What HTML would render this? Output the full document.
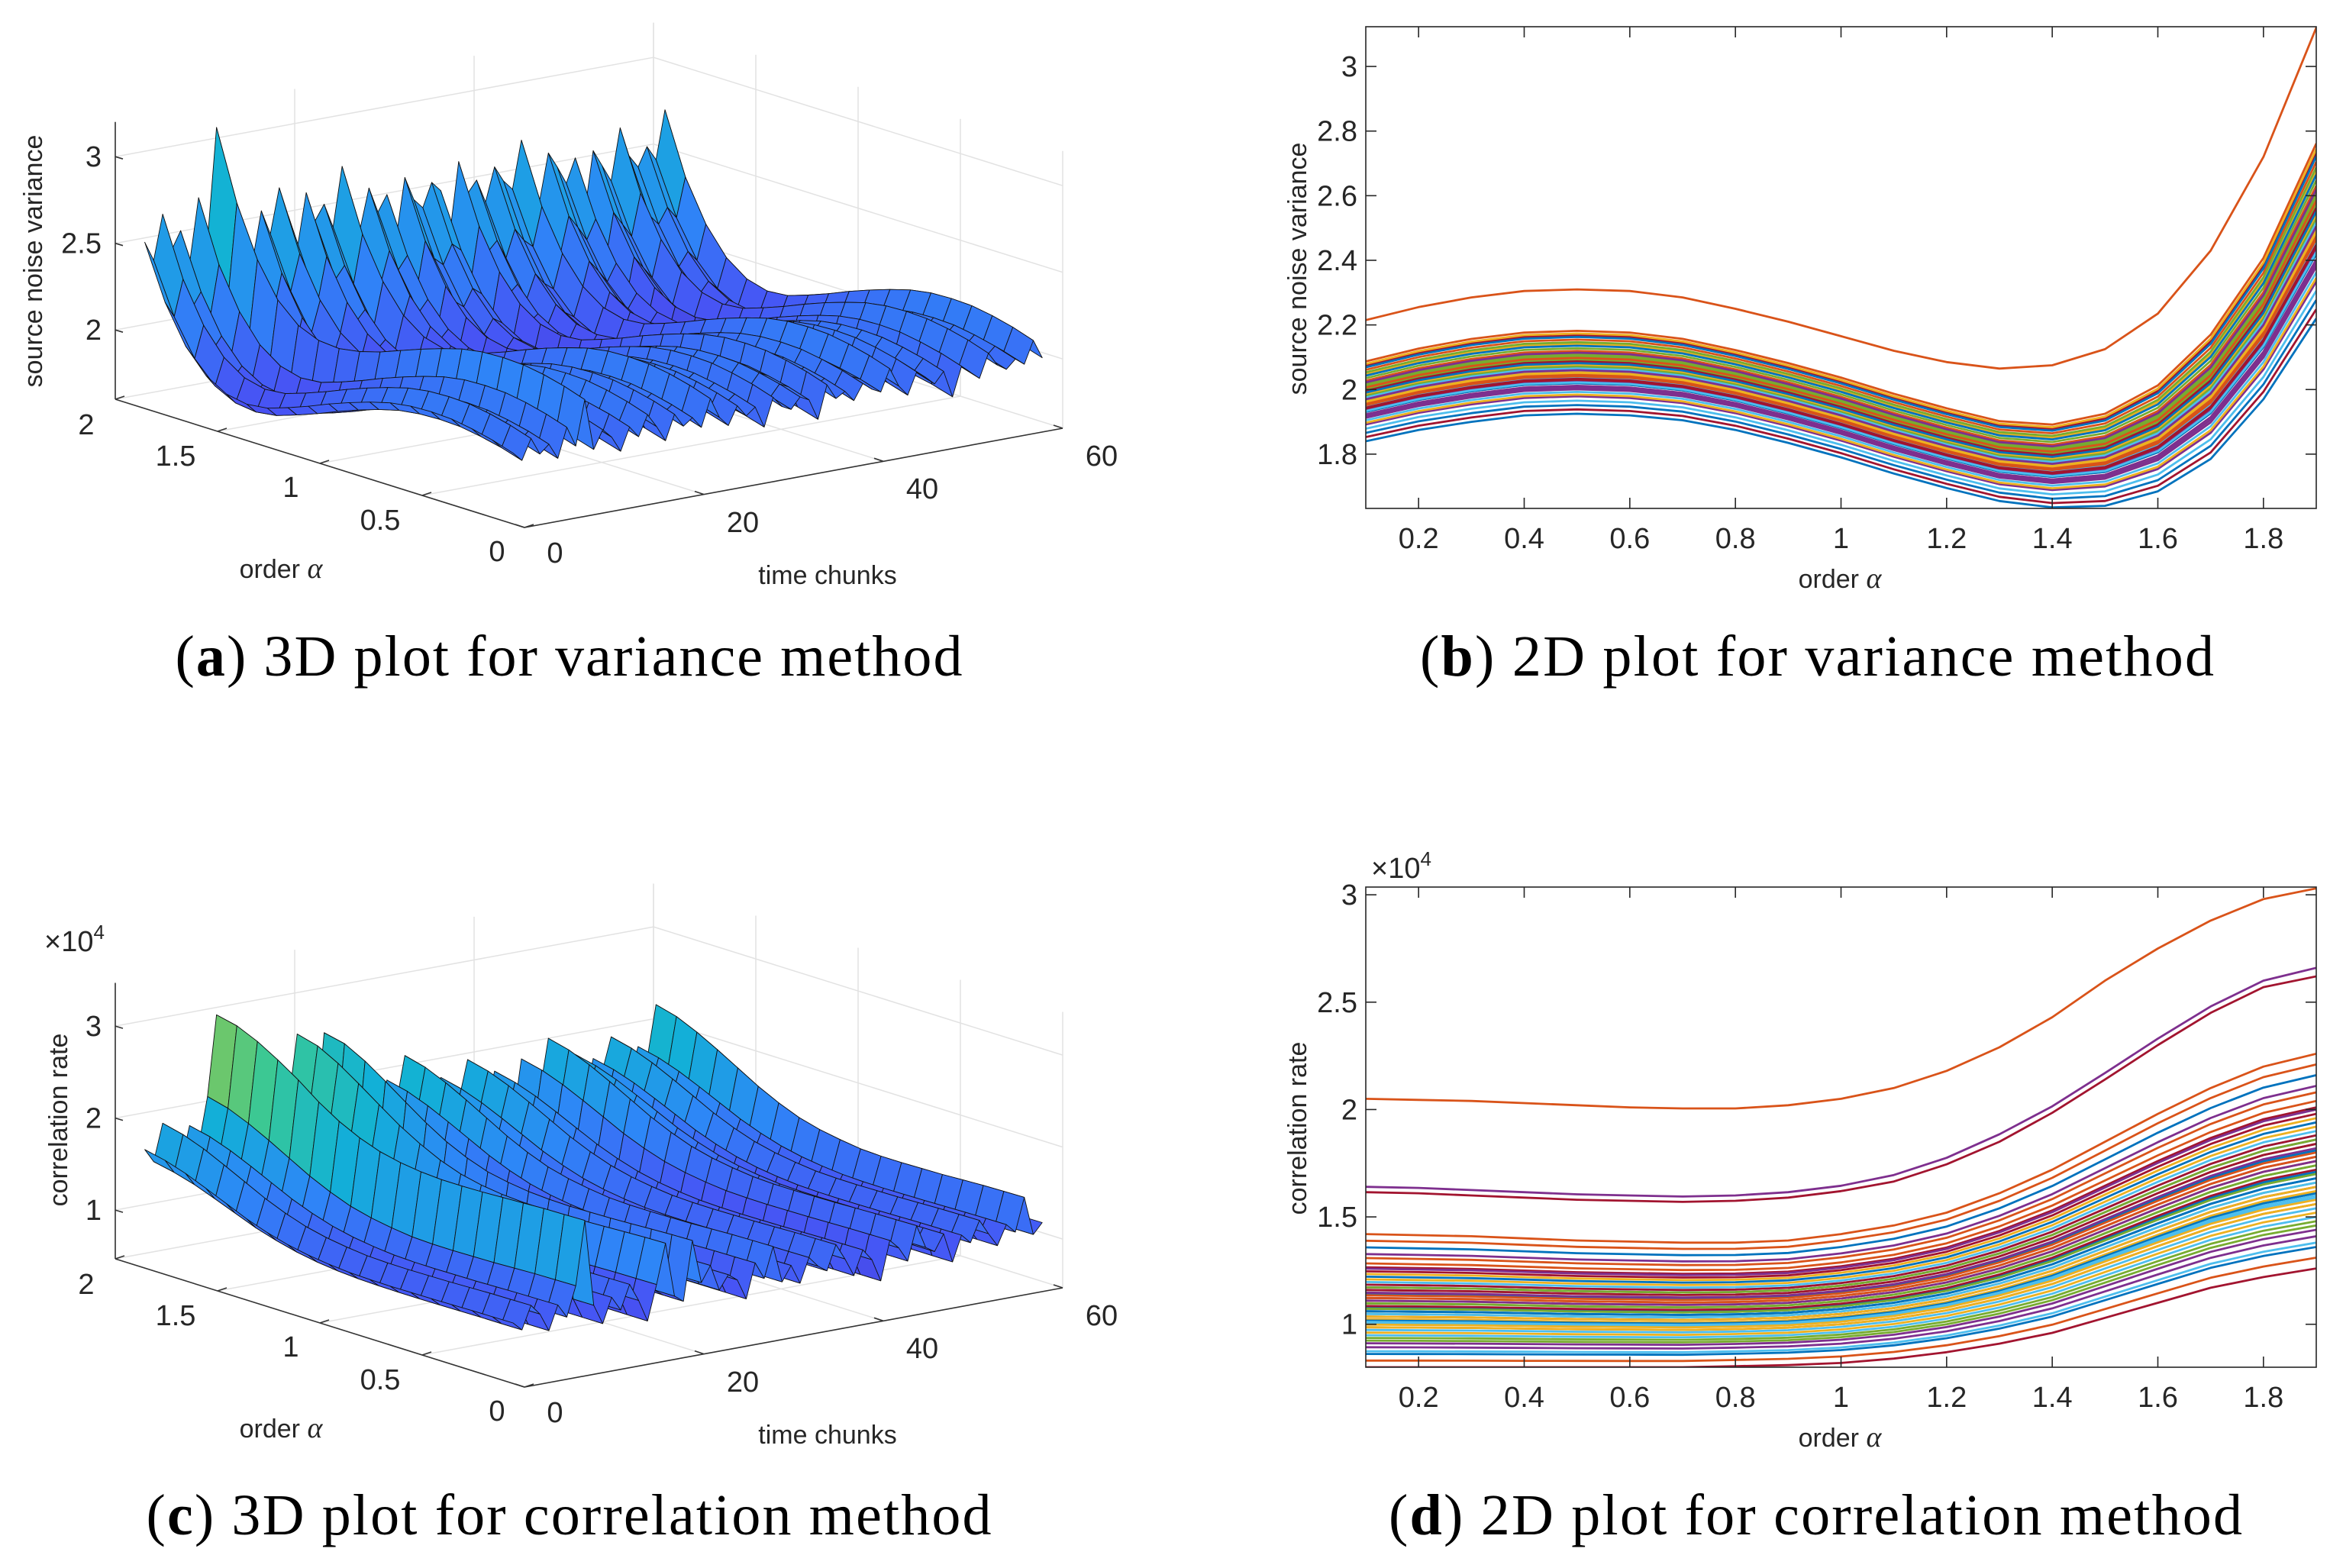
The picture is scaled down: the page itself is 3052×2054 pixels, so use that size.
<!DOCTYPE html>
<html><head><meta charset="utf-8"><style>
html,body{margin:0;padding:0;background:#fff;}
svg{display:block;}
.tk{font-family:"Liberation Sans Narrow","Liberation Sans",sans-serif;font-size:38px;fill:#262626;}
.lab{font-family:"Liberation Sans",sans-serif;font-size:34px;fill:#262626;}
.cap{font-family:"Liberation Serif",serif;font-size:76px;fill:#000;}
</style></head><body>
<svg id="root" xmlns="http://www.w3.org/2000/svg" width="3052" height="2054" viewBox="0 0 3052 2054">
<defs>
<clipPath id="clipB"><rect x="1789" y="35" width="1245" height="631"/></clipPath>
<clipPath id="clipD"><rect x="1789" y="1162" width="1245" height="629"/></clipPath>
</defs>
<g id="panelA"></g>
<g id="panelB"></g>
<g id="panelC"></g>
<g id="panelD"></g>
<text class="cap" x="745" y="885" text-anchor="middle" textLength="1031">(<tspan font-weight="bold">a</tspan>) 3D plot for variance method</text>
<text class="cap" x="2380" y="885" text-anchor="middle" textLength="1040">(<tspan font-weight="bold">b</tspan>) 2D plot for variance method</text>
<text class="cap" x="745" y="2010" text-anchor="middle" textLength="1107">(<tspan font-weight="bold">c</tspan>) 3D plot for correlation method</text>
<text class="cap" x="2378" y="2010" text-anchor="middle" textLength="1118">(<tspan font-weight="bold">d</tspan>) 2D plot for correlation method</text>
</svg>
<script>
const alphas=[0.1,0.2,0.3,0.4,0.5,0.6,0.7,0.8,0.9,1.0,1.1,1.2,1.3,1.4,1.5,1.6,1.7,1.8,1.9];
const xTicks=[0.2,0.4,0.6,0.8,1,1.2,1.4,1.6,1.8];
const xTickLabels=["0.2","0.4","0.6","0.8","1","1.2","1.4","1.6","1.8"];
// variance method
const bLow=[1.84,1.875,1.9,1.92,1.925,1.92,1.905,1.875,1.835,1.79,1.74,1.695,1.655,1.635,1.64,1.685,1.785,1.97,2.22];
const bHigh=[2.10,2.14,2.17,2.19,2.195,2.19,2.17,2.135,2.095,2.05,2.0,1.955,1.915,1.905,1.94,2.03,2.19,2.43,2.79];
const bTop=[2.215,2.255,2.285,2.305,2.31,2.305,2.285,2.25,2.21,2.165,2.12,2.085,2.065,2.075,2.125,2.235,2.43,2.72,3.12];
const bMix=[0.55,0.35,0.8,0.42,0.6,0.25,0.9,0.45,0.3,0.7,0.5,0.15,0.65,0.4,0.85,0.55,0.2,0.75,0.45,0.6,0.35,0.95,0.5,0.28,0.68,0.42,0.58,0.1,0.72,0.48,0.38,0.62,0.52,0.05,0.78,0.44,0.56,0.32,0.66,0.5,0.4,0.88,0.46,0.22,0.7,0.54,0.36,0.6,0.0,0.64,0.47,0.3,0.82,0.52,0.39,0.58,0.43,0.92,0.5];
const bTopIndex=8;
const bYTicks=[1.8,2,2.2,2.4,2.6,2.8,3];
const bYTickLabels=["1.8","2","2.2","2.4","2.6","2.8","3"];
// correlation method (x1e4)
const dLow=[0.80,0.80,0.80,0.80,0.80,0.80,0.80,0.805,0.81,0.82,0.84,0.87,0.91,0.96,1.03,1.10,1.17,1.22,1.26];
const dHigh=[1.42,1.415,1.41,1.40,1.39,1.385,1.38,1.38,1.39,1.42,1.46,1.52,1.61,1.72,1.85,1.98,2.1,2.2,2.26];
const dTop=[2.05,2.045,2.04,2.03,2.02,2.01,2.005,2.005,2.02,2.05,2.1,2.18,2.29,2.43,2.6,2.75,2.88,2.98,3.03];
const dSecond=[1.64,1.635,1.625,1.615,1.605,1.6,1.595,1.6,1.615,1.645,1.695,1.775,1.885,2.015,2.17,2.33,2.48,2.6,2.66];
const dThird=[1.615,1.61,1.60,1.59,1.58,1.575,1.57,1.575,1.59,1.62,1.665,1.745,1.85,1.985,2.14,2.3,2.45,2.57,2.62];
const dMix=[0.45,0.3,0.7,0.52,0.2,0.62,0.38,0.9,0.5,0.15,0.58,0.33,0.75,0.44,0.05,0.66,0.4,0.28,0.55,0.82,0.36,0.6,0.48,0.12,0.72,0.42,0.95,0.3,0.56,0.22,0.64,0.46,0.35,0.78,0.5,0.18,0.6,0.4,0.0,0.68,0.52,0.26,0.85,0.44,0.34,0.62,0.1,0.54,0.38,0.74,0.48,0.24,0.58,0.42,1.0,0.32,0.5];
const dTopIndex=8, dSecondIndex=17, dThirdIndex=20;
const dYTicks=[1,1.5,2,2.5,3];
const dYTickLabels=["1","1.5","2","2.5","3"];
const matColors=["#0072BD","#D95319","#EDB120","#7E2F8E","#77AC30","#4DBEEE","#A2142F"];

const NS="http://www.w3.org/2000/svg";
function el(tag,attrs,parent){const e=document.createElementNS(NS,tag);for(const k in attrs)e.setAttribute(k,attrs[k]);parent.appendChild(e);return e;}
function txt(str,attrs,parent){const e=el("text",attrs,parent);e.textContent=str;return e;}

function buildB(){const s=[];let k=0;for(let i=0;i<60;i++){if(i===bTopIndex)s.push(bTop.slice());else{const m=bMix[k++];s.push(bLow.map((v,j)=>v+m*(bHigh[j]-v)));}}return s;}
function buildD(){const s=[];let k=0;for(let i=0;i<60;i++){if(i===dTopIndex)s.push(dTop.slice());else if(i===dSecondIndex)s.push(dSecond.slice());else if(i===dThirdIndex)s.push(dThird.slice());else{const m=dMix[k++];s.push(dLow.map((v,j)=>v+m*(dHigh[j]-v)));}}return s;}
const seriesB=buildB(), seriesD=buildD();

const parStops=[[0.2422,0.1504,0.6603],[0.2810,0.3228,0.9579],[0.1786,0.5289,0.9682],[0.0689,0.6948,0.8394],[0.2161,0.7843,0.5923],[0.6720,0.7793,0.2227],[0.9970,0.7659,0.2199],[0.9598,0.9218,0.0948],[0.9769,0.9839,0.0805]];
function parula(u){u=Math.max(0,Math.min(1,u));const p=u*8,i=Math.min(7,Math.floor(p)),f=p-i;const a=parStops[i],b=parStops[i+1];return "rgb("+[0,1,2].map(c=>Math.round(255*(a[c]+(b[c]-a[c])*f))).join(",")+")";}

function plot2D(g,series,yS,yTicks,yLabels,top,bot,clip,ylabel,ylabelY,exp){
  const L=1789,R=3034;
  const xS=v=>L+(v-0.1)/1.8*(R-L);
  const lines=el("g",{"clip-path":"url(#"+clip+")"},g);
  
  
  series.forEach((s,i)=>{
    const d=s.map((v,j)=>(j?"L":"M")+xS(alphas[j]).toFixed(1)+","+yS(v).toFixed(1)).join("");
    const p=el("path",{d:d,fill:"none",stroke:matColors[i%7],"stroke-width":"2.8","stroke-linejoin":"round"},lines);
    
    
  });
  const box=el("rect",{x:L,y:top,width:R-L,height:bot-top,fill:"none",stroke:"#262626","stroke-width":"1.6"},g);
  
  
  xTicks.forEach((v,i)=>{const x=xS(v);
    el("line",{x1:x,y1:bot,x2:x,y2:bot-14,stroke:"#262626","stroke-width":"1.6"},g);
    el("line",{x1:x,y1:top,x2:x,y2:top+14,stroke:"#262626","stroke-width":"1.6"},g);
    const t=txt(xTickLabels[i],{class:"tk",x:x,y:bot+52,"text-anchor":"middle"},g);
    
    
  });
  yTicks.forEach((v,i)=>{const y=yS(v);
    el("line",{x1:L,y1:y,x2:L+14,y2:y,stroke:"#262626","stroke-width":"1.6"},g);
    el("line",{x1:R,y1:y,x2:R-14,y2:y,stroke:"#262626","stroke-width":"1.6"},g);
    const t=txt(yLabels[i],{class:"tk",x:L-11,y:y+13,"text-anchor":"end"},g);
    
    
  });
  const xl=txt("",{class:"lab",x:2410,y:bot+104,"text-anchor":"middle"},g);
  xl.innerHTML='order <tspan font-family="Liberation Serif" font-style="italic" font-size="38">α</tspan>';
  
  
  const yl=txt(ylabel,{class:"lab",x:0,y:0,"text-anchor":"middle",transform:"translate(1711,"+ylabelY+") rotate(-90)"},g);
  
  
  if(exp){const e=txt("",{class:"tk",x:1796,y:1150},g);e.innerHTML='×10<tspan font-size="26" dy="-16">4</tspan>';
    
    }
}

plot2D(document.getElementById("panelB"),seriesB,v=>666-(v-1.632)/(3.123-1.632)*631,bYTicks,bYTickLabels,35,666,"clipB","source noise variance",352,false);
plot2D(document.getElementById("panelD"),seriesD,v=>1791-(v-0.80)/(3.036-0.80)*629,dYTicks,dYTickLabels,1162,1791,"clipD","correlation rate",1478,true);

function plot3D(g,series,oy,zFloor,zTop,zScale,zTicks,zLabels,zlabel,zlabelPos,exp,cScale){
  const P=(a,t,z)=>[687-268*a+11.75*t, oy-84*a-2.167*t-zScale*(z-zFloor)];
  const pt=p=>p[0].toFixed(1)+","+p[1].toFixed(1);
  const grid=el("g",{stroke:"#e2e2e2","stroke-width":"1.5",fill:"none"},g);
  
  
  const ln=(p,q,par)=>el("line",{x1:p[0],y1:p[1],x2:q[0],y2:q[1]},par);
  [0,20,40,60].forEach(t=>{ln(P(2,t,zFloor),P(2,t,zTop),grid);ln(P(0,t,zFloor),P(2,t,zFloor),grid);});
  [0,0.5,1,1.5,2].forEach(a=>{ln(P(a,60,zFloor),P(a,60,zTop),grid);ln(P(a,0,zFloor),P(a,60,zFloor),grid);});
  zTicks.forEach(z=>{ln(P(2,0,z),P(2,60,z),grid);ln(P(2,60,z),P(0,60,z),grid);});
  const ax=el("g",{stroke:"#333","stroke-width":"1.6"},g);
  
  
  ln(P(0,0,zFloor),P(2,0,zFloor),ax);ln(P(0,0,zFloor),P(0,60,zFloor),ax);ln(P(2,0,zFloor),P(2,0,zTop),ax);
  [0,0.5,1,1.5,2].forEach(a=>{const p=P(a,0,zFloor);ln(p,[p[0]+12,p[1]-4],ax);});
  [0,20,40,60].forEach(t=>{const p=P(0,t,zFloor);ln(p,[p[0]-12,p[1]-4],ax);});
  zTicks.forEach(z=>{const p=P(2,0,z);ln(p,[p[0]+10,p[1]+3],ax);});
  const zs=series.flat(),zmin=Math.min(...zs),zmax=Math.max(...zs);
  const quads=[];
  for(let j=0;j<series.length-1;j++)for(let i=0;i<alphas.length-1;i++){
    const a0=alphas[i],a1=alphas[i+1],t0=j+1,t1=j+2;
    const z00=series[j][i],z10=series[j][i+1],z01=series[j+1][i],z11=series[j+1][i+1];
    const zm=(z00+z10+z01+z11)/4;
    quads.push({key:84*(a0+a1)/2+2.167*(t0+t1)/2,pts:[P(a0,t0,z00),P(a1,t0,z10),P(a1,t1,z11),P(a0,t1,z01)],c:parula(0.08+cScale*(zm-zmin)/(zmax-zmin))});
  }
  quads.sort((p,q)=>q.key-p.key);
  const sg=el("g",{stroke:"#111","stroke-width":"0.9","stroke-linejoin":"round"},g);
  
  
  quads.forEach(q=>{el("polygon",{points:q.pts.map(pt).join(" "),fill:q.c},sg);});
  const dy=oy-691;
  const tl=(s,x,y,anchor,name)=>{const t=txt(s,{class:"tk",x:x,y:y+dy+13,"text-anchor":anchor},g);
    
    };
  [["2",113,556],["1.5",230,597],["1",381,638],["0.5",498,681],["0",651,722]].forEach(a=>tl(a[0],a[1],a[2],"middle","alpha-tick-label"));
  [["0",727,724],["20",973,684],["40",1208,640],["60",1443,597]].forEach(a=>tl(a[0],a[1],a[2],"middle","time-tick-label"));
  zTicks.forEach((z,i)=>{const p=P(2,0,z);const t=txt(zLabels[i],{class:"tk",x:p[0]-18,y:p[1]+13,"text-anchor":"end"},g);
    
    });
  const xl=txt("",{class:"lab",x:368,y:745+dy+12,"text-anchor":"middle"},g);
  xl.innerHTML='order <tspan font-family="Liberation Serif" font-style="italic" font-size="38">α</tspan>';
  
  
  const tt=txt("time chunks",{class:"lab",x:1084,y:753+dy+12,"text-anchor":"middle"},g);
  
  
  const zl=txt(zlabel,{class:"lab",x:0,y:0,"text-anchor":"middle",transform:"translate("+zlabelPos[0]+","+zlabelPos[1]+") rotate(-90)"},g);
  
  
  if(exp){const e=txt("",{class:"tk",x:58,y:1246},g);e.innerHTML='×10<tspan font-size="26" dy="-16">4</tspan>';
    
    }
}
plot3D(document.getElementById("panelA"),seriesB,691,1.6,3.2,227,[2,2.5,3],["2","2.5","3"],"source noise variance",[55,342],false,0.45);
plot3D(document.getElementById("panelC"),seriesD,1817,0.47,3.47,120.5,[1,2,3],["1","2","3"],"correlation rate",[88,1467],true,0.6);
</script>
</body></html>
